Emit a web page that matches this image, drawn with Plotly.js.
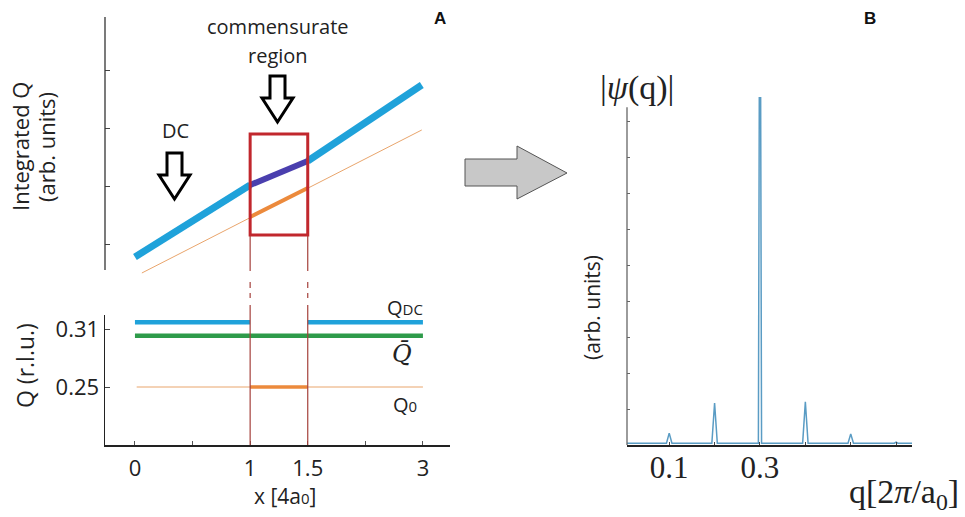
<!DOCTYPE html>
<html>
<head>
<meta charset="utf-8">
<script src="https://cdn.plot.ly/plotly-3.0.1.min.js"></script>
<style>html,body{margin:0;padding:0;background:#fff;}#chart{width:965px;height:517px;}</style>
</head>
<body>
<div id="chart"></div>
<script>
// ---------- Panel A data (x in tick-index units; tick labels below) ----------
const xTickVals = [0, 1, 2, 3, 4, 5];
const xTickText = ['0', '', '1', '1.5', '', '3'];

// upper: integrated Q (arb. units)
const intDcLeftX = [0, 2],    intDcLeftY = [0.776, 2.017];
const intCommX   = [2, 3],    intCommY   = [2.017, 2.431];
const intDcRightX= [3, 4.98], intDcRightY= [2.431, 3.741];
const intQ0X     = [0.12, 4.98], intQ0Y  = [0.50, 2.966];
const intQ0CommX = [2, 3],    intQ0CommY = [1.466, 1.966];
const upperTickVals = [1, 2, 3, 4];
const boxX = [2, 3], boxY = [1.155, 2.897];

// lower: Q (r.l.u.)
const qdcLeftX = [0, 2],  qdcLeftY = [0.317, 0.317];
const qdcRightX = [3, 5], qdcRightY = [0.317, 0.317];
const qbarX = [0, 5],     qbarY = [0.303, 0.303];
const q0X = [0.03, 5],    q0Y = [0.25, 0.25];
const q0CommX = [2, 3],   q0CommY = [0.25, 0.25];
const lowerTickVals = [0.25, 0.31];
const lowerTickText = ['0.25', '0.31'];

// ---------- Panel B data ----------
const qVals = [0.007, 0.094, 0.1, 0.106, 0.194, 0.2, 0.206, 0.2965, 0.2985, 0.3015, 0.3035, 0.394, 0.4, 0.406, 0.494, 0.5, 0.506, 0.596, 0.6, 0.604, 0.635];
const psiVals = [0.05, 0.05, 0.33, 0.05, 0.05, 1.17, 0.05, 0.05, 9.67, 9.67, 0.05, 0.05, 1.20, 0.05, 0.05, 0.31, 0.05, 0.05, 0.08, 0.05, 0.05];
const bTickVals = [0.1, 0.2, 0.3, 0.4, 0.5, 0.6];
const bTickText = ['0.1', '', '0.3', '', '', ''];
const bYTickVals = [1, 2, 3, 4, 5, 6, 7, 8, 9];

// ---------- colours ----------
const BLUE = '#1fa2da', PURPLE = '#4a3fae', ORANGE_THIN = '#e9a56c', ORANGE = '#ec8a3c',
      GREEN = '#2e9b4a', RED = '#c1272d', DARKRED = '#a5413c', PSI = '#5a9cc4';

const W = 965, H = 517;
const px = v => v / W;
const py = v => 1 - v / H;

function line(x, y, color, width, xa, ya) {
  return {x: x, y: y, xaxis: xa, yaxis: ya, type: 'scatter', mode: 'lines',
          line: {color: color, width: width}, hoverinfo: 'skip', showlegend: false};
}

const traces = [
  line(intQ0X, intQ0Y, ORANGE_THIN, 1, 'x', 'y'),
  line(intDcLeftX, intDcLeftY, BLUE, 7, 'x', 'y'),
  line(intDcRightX, intDcRightY, BLUE, 7, 'x', 'y'),
  line(intCommX, intCommY, PURPLE, 6, 'x', 'y'),
  line(intQ0CommX, intQ0CommY, ORANGE, 4, 'x', 'y'),

  line(q0X, q0Y, ORANGE_THIN, 1, 'x2', 'y2'),
  line(q0CommX, q0CommY, ORANGE, 3.5, 'x2', 'y2'),
  line(qbarX, qbarY, GREEN, 4.5, 'x2', 'y2'),
  line(qdcLeftX, qdcLeftY, BLUE, 4.5, 'x2', 'y2'),
  line(qdcRightX, qdcRightY, BLUE, 4.5, 'x2', 'y2'),

  line(qVals, psiVals, PSI, 1.5, 'x3', 'y3')
];

const sansFont = {family: '"Open Sans", Lato, sans-serif', color: '#222'};
const serifFont = {family: '"Liberation Serif", "DejaVu Serif", serif', color: '#222'};
const sf = s => Object.assign({size: s}, sansFont);
const rf = s => Object.assign({size: s}, serifFont);

const shapes = [
  // upper y axis line
  {type: 'line', xref: 'paper', yref: 'y', x0: px(105), x1: px(105), y0: 0.552, y1: 4.914, line: {color: '#333', width: 1.3}},
  // red box
  {type: 'rect', xref: 'x', yref: 'y', x0: boxX[0], x1: boxX[1], y0: boxY[0], y1: boxY[1], line: {color: RED, width: 3}},
  // panel B y axis line
  {type: 'line', xref: 'paper', yref: 'y3', x0: px(627), x1: px(627), y0: 0, y1: 9.41, line: {color: '#666', width: 1.3}},
  // gray arrow
  {type: 'path', xref: 'paper', yref: 'paper',
   path: `M ${px(465)} ${py(159)} L ${px(517)} ${py(159)} L ${px(517)} ${py(146)} L ${px(567)} ${py(173)} L ${px(517)} ${py(199)} L ${px(517)} ${py(186)} L ${px(465)} ${py(186)} Z`,
   fillcolor: '#c8c8c8', line: {color: '#555', width: 1}},
  // DC arrow
  {type: 'path', xref: 'paper', yref: 'paper',
   path: `M ${px(167)} ${py(153)} L ${px(182)} ${py(153)} L ${px(182)} ${py(175)} L ${px(190)} ${py(175)} L ${px(174.5)} ${py(199)} L ${px(159)} ${py(175)} L ${px(167)} ${py(175)} Z`,
   fillcolor: '#fff', line: {color: '#000', width: 3}},
  // commensurate arrow
  {type: 'path', xref: 'paper', yref: 'paper',
   path: `M ${px(270)} ${py(76)} L ${px(285)} ${py(76)} L ${px(285)} ${py(98)} L ${px(293)} ${py(98)} L ${px(277.5)} ${py(122)} L ${px(262)} ${py(98)} L ${px(270)} ${py(98)} Z`,
   fillcolor: '#fff', line: {color: '#000', width: 3}}
];
// red vertical guide lines (solid / dashed pieces)
const guideSegs = [[236, 271], [282, 288], [293, 298], [305, 445]];
[boxX[0], boxX[1]].forEach(xv => {
  guideSegs.forEach(s => shapes.push({type: 'line', xref: 'x2', yref: 'paper', x0: xv, x1: xv,
    y0: py(s[0]), y1: py(s[1]), line: {color: DARKRED, width: 1.2}}));
});

function ann(text, x, y, font, extra) {
  return Object.assign({text: text, xref: 'paper', yref: 'paper', x: px(x), y: py(y),
    xanchor: 'center', yanchor: 'middle', showarrow: false, font: font}, extra || {});
}

const annotations = [
  ann('<b>A</b>', 440, 18, {family: 'Arial, "Liberation Sans", sans-serif', size: 17, color: '#111'}),
  ann('<b>B</b>', 870, 18, {family: 'Arial, "Liberation Sans", sans-serif', size: 17, color: '#111'}),
  ann('commensurate', 278, 27, sf(20)),
  ann('region', 278, 56, sf(20)),
  ann('DC', 175, 130, sf(20)),
  ann('Integrated Q', 20, 147, sf(22), {textangle: -90}),
  ann('(arb. units)', 46, 147, sf(22), {textangle: -90}),
  ann('Q (r.l.u.)', 25, 366, sf(23), {textangle: -90}),
  ann('Q<span style="font-size:15px">DC</span>', 405, 307, sf(20)),
  ann('<i>Q̄</i>', 402, 354, {family: '"DejaVu Serif", serif', size: 24, color: '#222'}),
  ann('Q<span style="font-size:15px">0</span>', 405, 404, sf(20)),
  ann('x [4a<span style="font-size:15px">0</span>]', 285, 496, sf(21)),
  ann('(arb. units)', 592, 308, sf(21), {textangle: -90}),
  ann('|<i>ψ</i>(q)|', 637, 88, rf(34)),
  ann('q[2<i>π</i>/a<sub>0</sub>]', 904, 494, rf(34))
];

const layout = {
  width: W, height: H,
  margin: {l: 0, r: 0, t: 0, b: 0},
  paper_bgcolor: '#fff', plot_bgcolor: 'rgba(0,0,0,0)',
  showlegend: false,
  xaxis: {domain: [px(105), px(450)], range: [-0.52, 5.47], visible: false, fixedrange: true},
  yaxis: {domain: [py(285), py(17)], range: [0.293, 4.914], anchor: 'x', showline: false, showgrid: false, zeroline: false,
          tickvals: upperTickVals, ticktext: ['', '', '', ''], ticks: 'inside', ticklen: 5, tickcolor: '#444', fixedrange: true},
  xaxis2: {domain: [px(105), px(450)], range: [-0.52, 5.47], anchor: 'y2', showline: true, linecolor: '#222', linewidth: 1.5,
           showgrid: false, zeroline: false, tickvals: xTickVals, ticktext: xTickText, ticks: 'inside', ticklen: 4,
           tickcolor: '#555', tickfont: sf(22), ticklabelstandoff: 3, fixedrange: true},
  yaxis2: {domain: [py(445), py(315)], range: [0.19, 0.3245], anchor: 'x2', showline: true, linecolor: '#222', linewidth: 1.5,
           showgrid: false, zeroline: false, tickvals: lowerTickVals, ticktext: lowerTickText, ticks: 'inside', ticklen: 5,
           tickcolor: '#444', tickfont: sf(22), fixedrange: true},
  xaxis3: {domain: [px(627), px(912)], range: [0.007, 0.635], anchor: 'y3', showline: true, linecolor: '#222', linewidth: 1.5,
           showgrid: false, zeroline: false, tickvals: bTickVals, ticktext: bTickText, ticks: 'inside', ticklen: 3,
           tickcolor: '#444', tickfont: rf(31), ticklabelstandoff: -6, fixedrange: true},
  yaxis3: {domain: [py(445), py(95)], range: [0, 9.75], anchor: 'x3', showline: false, showgrid: false, zeroline: false,
           tickvals: bYTickVals, ticktext: bYTickVals.map(() => ''), ticks: 'inside', ticklen: 3, tickcolor: '#666', fixedrange: true},
  shapes: shapes,
  annotations: annotations
};

Plotly.newPlot('chart', traces, layout, {displayModeBar: false, staticPlot: true});
</script>
</body>
</html>
